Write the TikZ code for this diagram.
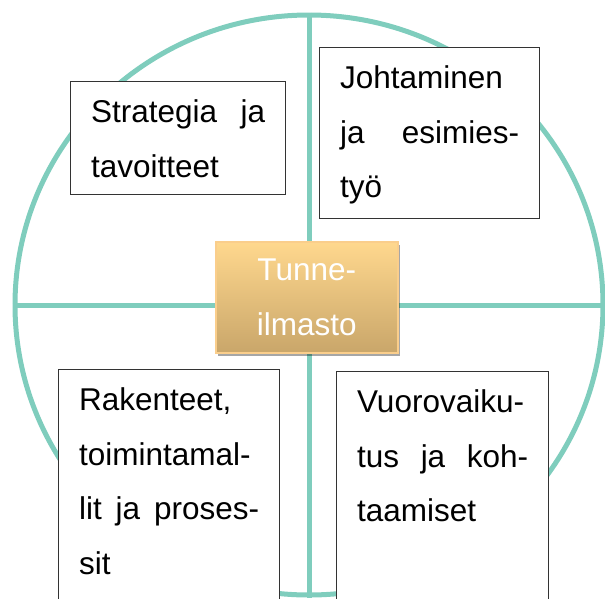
\documentclass[tikz,border=0pt]{standalone}
\usepackage{fontspec}
\setmainfont{Liberation Sans}
\usetikzlibrary{shapes.geometric,shadows}
\definecolor{wheelteal}{RGB}{127,205,189}
\definecolor{goldtop}{RGB}{255,216,142}
\definecolor{goldbottom}{RGB}{201,166,106}
\definecolor{goldline}{RGB}{250,206,140}
\begin{document}
\begin{tikzpicture}[x=1pt,y=-1pt,
    area/.style={draw=black!80, line width=1.3pt, fill=white, anchor=north west,
        inner xsep=20.5pt, inner ysep=0pt, align=left, text height=41pt,
        font=\fontsize{31.5}{54.5}\selectfont},
    core/.style={draw=goldline, line width=1.5pt, top color=goldtop, bottom color=goldbottom,
        minimum width=182pt, minimum height=111pt, anchor=north west, inner sep=0pt,
        text=white, align=center, font=\fontsize{31.5}{54.5}\selectfont,
        drop shadow={shadow xshift=2pt, shadow yshift=-3pt, opacity=0.35, fill=black}}]
    \useasboundingbox (0,0) rectangle (605,598);
    \clip (0,0) rectangle (605,598);
    % Wheel
        \node[ellipse, draw=wheelteal, line width=5pt, minimum width=588pt,
            minimum height=580pt, inner sep=0pt] (wheel) at (309,305) {};
        \draw[wheelteal, line width=5pt] (wheel.north) -- (wheel.south);
        \draw[wheelteal, line width=5pt] (wheel.west) -- (wheel.east);
    % Areas
        \node[area, text width=174pt, text depth=72pt] (strategy) at (70,81)
            {Strategia\hfill ja\\tavoitteet};
        \node[area, text width=179pt, text depth=130pt] (leadership) at (319,47)
            {Johtaminen\\ja\hfill esimies-\\työ};
        \node[area, text width=180pt, text depth=200pt] (structures) at (58,369)
            {Rakenteet,\\toimintamal-\\lit\hfill ja\hfill proses-\\sit};
        \node[area, text width=171pt, text depth=200pt] (interaction) at (336,371)
            {Vuorovaiku-\\tus\hfill ja\hfill koh-\\taamiset};
    % Centre
        \node[core] (climate) at (215,241) {Tunne-\\ilmasto};
\end{tikzpicture}
\end{document}
